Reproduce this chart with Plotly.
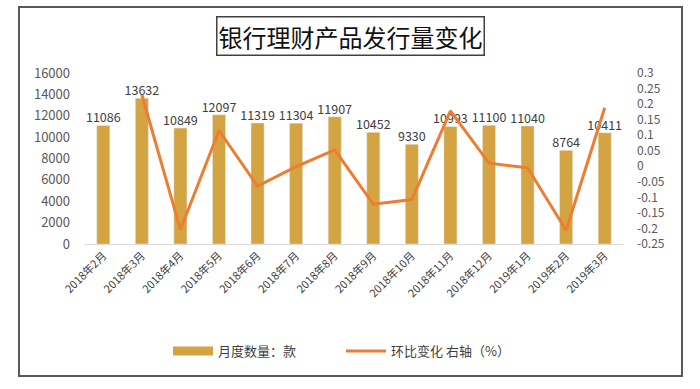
import plotly.graph_objects as go

months = ["2018年2月", "2018年3月", "2018年4月", "2018年5月", "2018年6月", "2018年7月",
          "2018年8月", "2018年9月", "2018年10月", "2018年11月", "2018年12月",
          "2019年1月", "2019年2月", "2019年3月"]
counts = [11086, 13632, 10849, 12097, 11319, 11304, 11907, 10452, 9330, 10993,
          11100, 11040, 8764, 10411]
mom_change = [None, 0.23, -0.204, 0.115, -0.064, -0.001, 0.053, -0.122, -0.107,
              0.178, 0.010, -0.005, -0.206, 0.188]

left_ticks = [0, 2000, 4000, 6000, 8000, 10000, 12000, 14000, 16000]
right_ticks = [-0.25, -0.2, -0.15, -0.1, -0.05, 0, 0.05, 0.1, 0.15, 0.2, 0.25, 0.3]

FONT = "Noto Sans CJK SC"
GOLD = "#D4A443"
W, H = 700, 389
L, R, T, B = 84, 76, 73, 145
pw, ph = W - L - R, H - T - B

def px(x):
    return (x - L) / pw

def py(y):
    return (H - B - y) / ph

fig = go.Figure()
fig.add_trace(go.Bar(
    x=months, y=counts, name="月度数量：款", showlegend=False,
    marker=dict(color=GOLD),
))
# legend entry with a wide rectangular swatch for the bars
fig.add_trace(go.Scatter(
    x=[None], y=[None], name="月度数量：款", mode="lines",
    line=dict(color=GOLD, width=9), hoverinfo="skip",
))
fig.add_trace(go.Scatter(
    x=months, y=mom_change, name="环比变化 右轴（%）", yaxis="y2",
    mode="lines", line=dict(color="#ED7D31", width=3),
))
fig.add_trace(go.Scatter(
    x=months, y=counts, mode="text", showlegend=False, hoverinfo="skip",
    text=[str(v) for v in counts], textposition="top center",
    textfont=dict(size=12.5, color="#404040", family=FONT),
    cliponaxis=False,
))

fig.update_layout(
    width=W, height=H,
    margin=dict(l=L, r=R, t=T, b=B, autoexpand=False),
    paper_bgcolor="white", plot_bgcolor="white",
    font=dict(family=FONT, color="#595959", size=11),
    bargap=0.66,
    showlegend=True,
    legend=dict(orientation="h", x=px(168), xanchor="left", y=py(351), yanchor="middle",
                font=dict(size=13, color="#404040", family=FONT),
                entrywidth=118, entrywidthmode="pixels", itemwidth=40, tracegroupgap=0),
    xaxis=dict(type="category", range=[-0.5, len(months) - 0.5],
               tickangle=-45, tickfont=dict(size=11, color="#404040", family=FONT),
               showgrid=False, showline=True, linecolor="#D9D9D9", linewidth=1,
               ticks="", automargin=False),
    yaxis=dict(range=[0, 16000], tickvals=left_ticks, ticktext=[str(v) for v in left_ticks],
               showgrid=False, zeroline=False, automargin=False,
               tickfont=dict(size=13, color="#595959", family=FONT), ticks="",
               ticklabelstandoff=13),
    yaxis2=dict(range=[-0.25, 0.3], tickvals=right_ticks, overlaying="y", side="right",
                showgrid=False, zeroline=False, ticks="", automargin=False,
                tickfont=dict(size=12, color="#595959", family=FONT),
                ticktext=[("%g" % v) for v in right_ticks],
                ticklabelstandoff=12),
    shapes=[
        dict(type="rect", xref="paper", yref="paper",
             x0=px(19), x1=px(682), y0=py(376), y1=py(7),
             line=dict(color="#595959", width=2), fillcolor="rgba(0,0,0,0)", layer="below"),
    ],
    annotations=[
        dict(text="银行理财产品发行量变化", xref="paper", yref="paper",
             x=px(350), y=py(36), xanchor="center", yanchor="middle", showarrow=False,
             font=dict(size=24, color="#111111", family=FONT),
             bordercolor="#404040", borderwidth=1.5, borderpad=1, bgcolor="white"),
    ],
)

fig.write_html("out.html", config={"displayModeBar": False},
               post_script="document.body.style.margin='0';document.body.style.overflow='hidden';")
